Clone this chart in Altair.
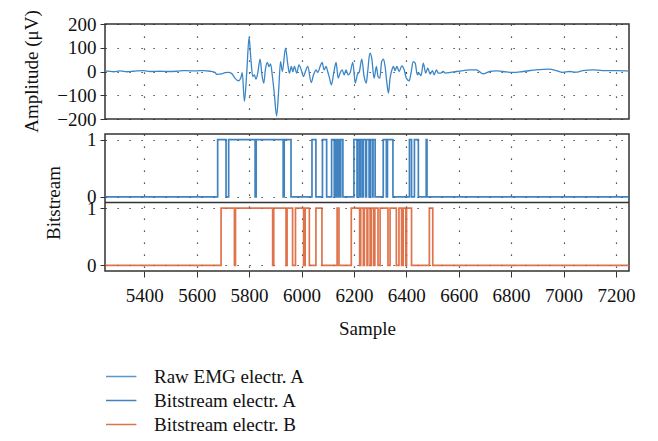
import altair as alt
import pandas as pd

FONT = "Liberation Serif"

# ---------------- data ----------------
emg_sample = [5250, 5258, 5283, 5308, 5334, 5359, 5397, 5423, 5461, 5486,
              5524, 5550, 5575, 5600, 5626, 5651, 5670, 5676, 5696, 5708,
              5721, 5734, 5746, 5759, 5768, 5774, 5782, 5791, 5800, 5806,
              5814, 5820, 5826, 5833, 5842, 5849, 5856, 5862, 5870, 5876,
              5882, 5889, 5896, 5905, 5913, 5920, 5927, 5939, 5948, 5954,
              5961, 5967, 5973, 5982, 5990, 5999, 6008, 6015, 6024, 6037,
              6046, 6056, 6062, 6071, 6079, 6086, 6094, 6100, 6107, 6114,
              6123, 6132, 6140, 6147, 6155, 6163, 6170, 6178, 6186, 6196,
              6205, 6213, 6221, 6230, 6239, 6247, 6252, 6261, 6268, 6277,
              6286, 6292, 6299, 6306, 6313, 6319, 6326, 6332, 6338, 6345,
              6351, 6357, 6364, 6373, 6383, 6392, 6400, 6411, 6418, 6426,
              6434, 6442, 6449, 6456, 6465, 6474, 6482, 6491, 6500, 6506,
              6515, 6522, 6531, 6540, 6550, 6569, 6591, 6616, 6642, 6667,
              6693, 6718, 6743, 6769, 6807, 6845, 6896, 6946, 6972, 6997,
              7023, 7048, 7074, 7112, 7150, 7200, 7238, 7250]
emg_value = [1, 2, -1, 3, -1, 1, 4, 0, 1, 0,
             1, 4, 3, 3, 4, 1, -4, -12, -10, -5,
             -4, -9, -28, -39, -28, -5, -126, -5, 145, 63,
             -21, -14, -32, -7, 52, -14, -49, 7, 38, 21,
             32, -21, -91, -187, -77, 42, 0, 98, 28, -7,
             21, 0, 21, -7, 28, 7, -21, 0, 21, -46,
             -14, 7, -4, 21, 38, 7, 21, 0, -28, -56,
             -7, 38, -28, -7, 7, -14, 7, -14, -4, 38,
             -49, -14, 0, 52, -21, -49, -7, 77, 56, -28,
             21, -21, -28, 42, 52, 21, -49, -91, -28, 7,
             21, 4, 21, 0, 24, 7, -28, -39, -7, 42,
             35, -14, -7, -18, 35, -7, 14, -11, 4, -14,
             7, -7, -7, 0, -7, -4, 0, 4, 7, 7,
             -10, 0, 3, 0, -4, 0, 7, 10, 4, -4,
             0, -3, 4, 7, 4, 4, 3, 2]

# bitstream A: samples where it switches to 1 and back to 0
bitA_rise = [5680, 5722, 5827, 5934, 6040, 6080, 6115, 6128, 6137, 6144,
             6150, 6200, 6215, 6225, 6236, 6248, 6262, 6273, 6312, 6328,
             6412, 6431, 6476]
bitA_fall = [5712, 5823, 5930, 5960, 6055, 6096, 6125, 6134, 6141, 6147,
             6158, 6212, 6222, 6232, 6245, 6258, 6270, 6281, 6324, 6349,
             6420, 6446, 6479]
# bitstream B
bitB_rise = [5693, 5748, 5894, 5945, 5977, 6014, 6055, 6136, 6190, 6226,
             6240, 6253, 6266, 6280, 6300, 6338, 6372, 6388, 6401, 6488]
bitB_fall = [5744, 5890, 5941, 5966, 6008, 6030, 6078, 6143, 6222, 6236,
             6250, 6262, 6275, 6292, 6330, 6362, 6382, 6398, 6420, 6501]

x_ticks = [5400, 5600, 5800, 6000, 6200, 6400, 6600, 6800, 7000, 7200]
amp_ticks = [-200, -100, 0, 100, 200]
series_names = ["Raw EMG electr. A", "Bitstream electr. A", "Bitstream electr. B"]
series_colors = ["#3a86c8", "#1f6db5", "#d95a2b"]

X_MIN, X_MAX = 5250, 7250
# the two bitstreams share one frame: B in the lower band, A shifted up
A_SHIFT = 1.2
SEP = 1.1
bit_ticks = [0, 1, A_SHIFT, A_SHIFT + 1]


def step_table(rise, fall, name, shift):
    s, v = [X_MIN], [0]
    for r, f in zip(rise, fall):
        s += [r, f]
        v += [1, 0]
    s.append(X_MAX)
    v.append(0)
    return pd.DataFrame({"sample": s, "y": [b + shift for b in v], "series": name})


emg_df = pd.DataFrame({"sample": emg_sample, "value": emg_value, "series": series_names[0]})
bits_df = pd.concat([
    step_table(bitA_rise, bitA_fall, series_names[1], A_SHIFT),
    step_table(bitB_rise, bitB_fall, series_names[2], 0.0),
], ignore_index=True)

W = 524
GRID_DASH = [1.2, 10.8]

color = alt.Color(
    "series:N",
    scale=alt.Scale(domain=series_names, range=series_colors),
    legend=alt.Legend(
        title=None, orient="bottom", direction="vertical",
        symbolType="M-1,0H2.2", symbolSize=361, symbolStrokeWidth=1.5,
        labelFont=FONT, labelFontSize=19, labelColor="#111",
        labelOffset=28, rowPadding=3, offset=27,
    ),
)

xscale = alt.Scale(domain=[X_MIN, X_MAX], nice=False, zero=False)

top = alt.Chart(emg_df).mark_line(interpolate="monotone", strokeWidth=1.3).encode(
    x=alt.X("sample:Q", scale=xscale,
            axis=alt.Axis(values=x_ticks, labels=False, ticks=False, domain=False,
                          title=None, grid=True)),
    y=alt.Y("value:Q", scale=alt.Scale(domain=[-200, 200], nice=False),
            axis=alt.Axis(values=amp_ticks, title="Amplitude (μV)",
                          titleX=-74, titleY=47, titleBaseline="middle")),
    color=color,
).properties(width=W, height=95)

bit_lines = alt.Chart(bits_df).mark_line(
    interpolate="step-after", strokeWidth=1.7, opacity=0.85
).encode(
    x=alt.X("sample:Q", scale=xscale,
            axis=alt.Axis(values=x_ticks, title="Sample", grid=True, format="d",
                          tickSize=6, labelPadding=9, titlePadding=14, domain=False)),
    y=alt.Y("y:Q", scale=alt.Scale(domain=[-0.1, A_SHIFT + 1.1], nice=False, zero=False),
            axis=alt.Axis(values=bit_ticks, title="Bitstream", labelOverlap=False,
                          titleX=-52, titleBaseline="middle",
                          labelExpr="datum.value < 0.5 || (datum.value > 1.1 && datum.value < 1.7) ? '0' : '1'")),
    color=color,
)

separator = alt.Chart(pd.DataFrame({"k": [0]})).mark_rule(
    color="#333", strokeWidth=1.5
).encode(y=alt.datum(SEP))

bits = alt.layer(bit_lines, separator).properties(width=W, height=137)

chart = alt.vconcat(top, bits, spacing=15, bounds="flush").properties(
    padding={"left": 13, "top": 0, "right": 5, "bottom": 5}
).configure_view(
    stroke="#333", strokeWidth=1.5
).configure_axis(
    labelFont=FONT, labelFontSize=19, labelColor="#111",
    titleFont=FONT, titleFontSize=19, titleFontWeight="normal", titleColor="#111",
    tickColor="#333", tickSize=5, labelPadding=3,
    gridColor="#222", gridDash=GRID_DASH, gridWidth=1.2, gridOpacity=1,
    domain=False,
).configure_axisY(
    labelPadding=4,
)

chart.save("out.html", embed_options={"renderer": "svg", "actions": False})
